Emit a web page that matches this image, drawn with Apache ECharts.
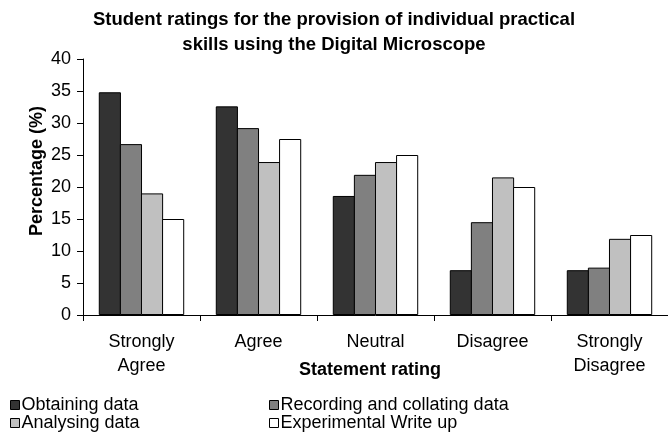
<!DOCTYPE html>
<html>
<head>
<meta charset="utf-8">
<script src="https://cdn.jsdelivr.net/npm/echarts@6/dist/echarts.min.js"></script>
<style>
html,body{margin:0;padding:0;background:#fff;}
#chart{width:668px;height:432px;}
</style>
</head>
<body>
<div id="chart"></div>
<script>
const categories = ['Strongly\nAgree', 'Agree', 'Neutral', 'Disagree', 'Strongly\nDisagree'];
const seriesNames = ['Obtaining data', 'Recording and collating data', 'Analysing data', 'Experimental Write up'];
const obtaining = [34.8, 32.6, 18.6, 7.0, 7.0];
const recording = [26.7, 29.2, 21.9, 14.5, 7.4];
const analysing = [19.0, 23.9, 23.9, 21.5, 11.9];
const writeUp = [15.0, 27.5, 25.0, 20.0, 12.5];
const seriesValues = [obtaining, recording, analysing, writeUp];
const colors = ['#333333', '#808080', '#c0c0c0', '#ffffff'];
const yTicks = { min: 0, max: 40, interval: 5 };

const font = 'Liberation Sans, Arial, sans-serif';
const chart = echarts.init(document.getElementById('chart'), null, { renderer: 'canvas' });

const legendBase = {
  orient: 'vertical',
  top: 396,
  itemWidth: 9,
  itemHeight: 9,
  itemGap: 0,
  icon: 'rect',
  padding: 0,
  itemStyle: { borderColor: '#000', borderWidth: 1 },
  textStyle: { fontFamily: font, fontSize: 18, color: '#000', lineHeight: 16, padding: [0, 0, 0, -3] }
};

chart.setOption({
  animation: false,
  backgroundColor: '#fff',
  title: {
    text: 'Student ratings for the provision of individual practical\nskills using the Digital Microscope',
    left: 'center',
    top: 7,
    padding: 0,
    textStyle: { fontFamily: font, fontSize: 18.5, fontWeight: 'bold', color: '#000', lineHeight: 25 }
  },
  legend: [
    Object.assign({}, legendBase, { left: 10, data: [seriesNames[0], seriesNames[2]] }),
    Object.assign({}, legendBase, { left: 269, data: [seriesNames[1], seriesNames[3]] })
  ],
  grid: { left: 83, right: 0, top: 59, bottom: 117, containLabel: false },
  xAxis: {
    type: 'category',
    data: categories,
    name: 'Statement rating',
    nameLocation: 'middle',
    nameGap: 45,
    nameMoveOverlap: false,
    nameTextStyle: { fontFamily: font, fontSize: 18, fontWeight: 'bold', color: '#000', lineHeight: 20, padding: [0, 11, 0, 0] },
    axisLine: { lineStyle: { color: '#000', width: 1 } },
    axisTick: { show: true, length: 6, lineStyle: { color: '#000' } },
    axisLabel: { fontFamily: font, fontSize: 18, color: '#000', lineHeight: 24, margin: 15, interval: 0 }
  },
  yAxis: {
    type: 'value',
    min: yTicks.min,
    max: yTicks.max,
    interval: yTicks.interval,
    name: 'Percentage (%)',
    nameLocation: 'middle',
    nameGap: 37,
    nameMoveOverlap: false,
    nameTextStyle: { fontFamily: font, fontSize: 18, fontWeight: 'bold', color: '#000', padding: [0, 0, 0, 32] },
    axisLine: { show: true, lineStyle: { color: '#000', width: 1 } },
    axisTick: { show: true, length: 6, lineStyle: { color: '#000' } },
    axisLabel: { fontFamily: font, fontSize: 18, color: '#000', margin: 12 },
    splitLine: { show: false }
  },
  series: seriesValues.map((vals, i) => ({
    name: seriesNames[i],
    type: 'bar',
    data: vals,
    barGap: '-4.7%',
    barCategoryGap: '27%',
    itemStyle: { color: colors[i], borderColor: '#000', borderWidth: 1 }
  }))
});
</script>
</body>
</html>
